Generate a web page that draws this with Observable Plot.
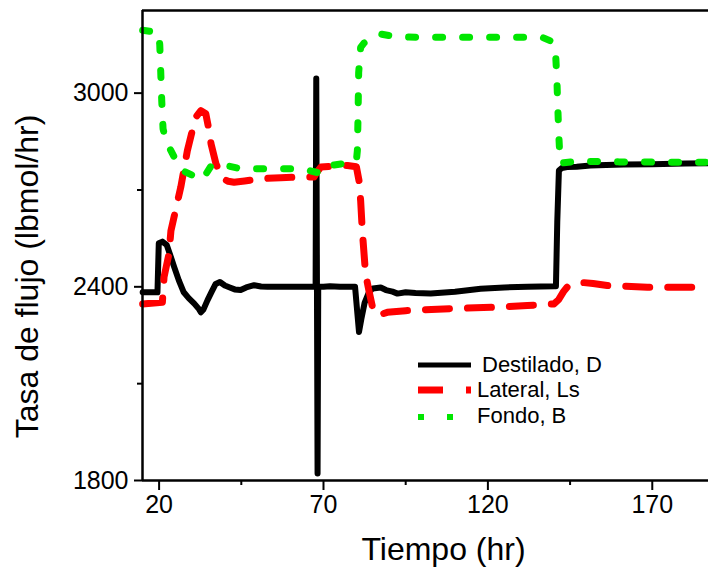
<!DOCTYPE html>
<html>
<head>
<meta charset="utf-8">
<script src="https://cdn.jsdelivr.net/npm/d3@7"></script>
<script src="https://cdn.jsdelivr.net/npm/@observablehq/plot@0.6"></script>
<style>
  html, body { margin: 0; padding: 0; background: #fff; }
  #chart { width: 708px; height: 568px; }
</style>
</head>
<body>
<div id="chart"></div>
<script>
// ---- axis data ----
const xDomain = [14.95, 187.1];
const yDomain = [1800, 3256];
const xTicks = [20, 70, 120, 170];
const xMinorTicks = [45, 95, 145];
const yTicks = [1800, 2400, 3000];
const yMinorTicks = [2100, 2700];
const xTitle = "Tiempo (hr)";
const yTitle = "Tasa de flujo (lbmol/hr)";

// ---- series ----
const seriesNames = ["Destilado, D", "Lateral, Ls", "Fondo, B"];
const seriesColors = ["#000000", "#ff0000", "#00e600"];

const destTime = [15, 19.5, 19.9, 21, 22.3, 23.5, 24.6, 26, 27.5, 29, 30.7, 32.2, 32.7, 33.5, 34.7, 36, 37.2, 38.5, 40, 41.5, 43, 44.8, 46.5, 48.9, 51, 53, 60, 67.6, 67.8, 68.2, 68.4, 70, 72, 75, 79.6, 80.2, 80.8, 81.5, 82.5, 83.8, 85, 87.4, 89, 91, 92.5, 95, 98, 102.6, 110, 117.8, 125, 132, 140.3, 140.7, 141.1, 141.6, 142.5, 144.1, 147, 151.2, 156, 161.3, 170, 180, 187.1];
const destFlow = [2383, 2383, 2535, 2540, 2530, 2495, 2461, 2420, 2383, 2365, 2348, 2330, 2321, 2330, 2358, 2385, 2409, 2415, 2404, 2398, 2392, 2390, 2398, 2405, 2401, 2400, 2400, 2400, 3045, 1822, 2400, 2400, 2402, 2400, 2400, 2330, 2260, 2300, 2350, 2383, 2395, 2398, 2390, 2385, 2379, 2383, 2381, 2379, 2385, 2394, 2398, 2400, 2402, 2402, 2600, 2760, 2768, 2771, 2772, 2776, 2777, 2779, 2780, 2782, 2783];

const latTime = [15, 21, 21.5, 23, 23.6, 26.6, 28.6, 30, 31.2, 32.7, 34.2, 35, 35.8, 37.3, 39.3, 41, 42.8, 46, 50.9, 57, 63.1, 67.1, 68, 69.2, 72, 77.3, 80, 80.8, 81.3, 81.8, 82.8, 83.8, 84.9, 86.4, 89.4, 95, 100.5, 110, 122.9, 132, 140.1, 141.5, 143, 144.1, 146, 148.2, 152, 156.3, 162, 168.5, 178, 187.1];
const latFlow = [2347, 2352, 2430, 2502, 2574, 2709, 2822, 2880, 2926, 2946, 2936, 2895, 2843, 2781, 2735, 2727, 2724, 2728, 2735, 2738, 2740, 2740, 2755, 2771, 2773, 2776, 2772, 2729, 2667, 2574, 2440, 2389, 2337, 2311, 2321, 2326, 2329, 2333, 2337, 2342, 2347, 2360, 2385, 2399, 2410, 2414, 2410, 2404, 2402, 2399, 2399, 2399];

const fonTime = [15, 19.8, 20.2, 20.5, 20.8, 21.2, 22, 24.6, 27.1, 30.2, 33.2, 35.7, 38.8, 44.8, 52.9, 63.1, 68.1, 69.2, 75.7, 80.0, 80.3, 80.5, 80.7, 81.3, 82.3, 83.7, 87.4, 92.5, 100, 110, 120, 130, 136.5, 139.5, 140.6, 141, 141.3, 141.6, 142, 147.2, 160, 175, 187.1];
const fonFlow = [3195, 3188, 3150, 3065, 2977, 2890, 2853, 2802, 2760, 2745, 2732, 2773, 2779, 2766, 2766, 2766, 2754, 2771, 2781, 2790, 2822, 2925, 3064, 3142, 3155, 3163, 3183, 3174, 3173, 3173, 3173, 3173, 3173, 3160, 3122, 3039, 2946, 2863, 2783, 2789, 2787, 2786, 2786];

const toRows = (ts, vs) => ts.map((t, i) => ({t, v: vs[i]}));
const dest = toRows(destTime, destFlow);
const lat = toRows(latTime, latFlow);
const fon = toRows(fonTime, fonFlow);

const FONT = "Liberation Sans, Arial, Helvetica, sans-serif";

const chart = Plot.plot({
  width: 708,
  height: 568,
  marginLeft: 142,
  marginRight: 0,
  marginTop: 10,
  marginBottom: 88,
  style: {fontFamily: FONT, color: "#000", background: "#fff", overflow: "visible"},
  x: {domain: xDomain, axis: null},
  y: {domain: yDomain, axis: null},
  marks: [
    // series
    Plot.line(dest, {x: "t", y: "v", stroke: seriesColors[0], strokeWidth: 6, strokeLinejoin: "round"}),
    Plot.line(lat, {x: "t", y: "v", stroke: seriesColors[1], strokeWidth: 7, strokeDasharray: "24,18", strokeLinejoin: "round"}),
    Plot.line(fon, {x: "t", y: "v", stroke: seriesColors[2], strokeWidth: 7, strokeDasharray: "7,20", strokeLinejoin: "round"}),
    // frame lines (left, bottom, top)
    Plot.ruleX([xDomain[0]], {stroke: "#000", strokeWidth: 2.5}),
    Plot.ruleY([yDomain[0]], {stroke: "#000", strokeWidth: 2.5}),
    Plot.ruleY([yDomain[1]], {stroke: "#000", strokeWidth: 2.5}),
    // ticks
    Plot.axisX({ticks: xTicks, tickSize: 10, tickPadding: 5, fontSize: 25, strokeWidth: 2, tickFormat: "d", anchor: "bottom", label: null}),
    Plot.axisX({ticks: xMinorTicks, tickSize: 5, text: null, strokeWidth: 2, anchor: "bottom", label: null}),
    Plot.axisY({ticks: yTicks, tickSize: 8, tickPadding: 6, fontSize: 25, strokeWidth: 2, tickFormat: "d", anchor: "left", label: null}),
    Plot.axisY({ticks: yMinorTicks, tickSize: 5, text: null, strokeWidth: 2, anchor: "left", label: null}),
    // axis titles
    Plot.text([xTitle], {frameAnchor: "bottom", textAnchor: "middle", dx: 18, dy: 69, fontSize: 32, lineAnchor: "middle", fill: "#000"}),
    Plot.text([yTitle], {frameAnchor: "left", textAnchor: "middle", rotate: -90, dx: -115, dy: 31, fontSize: 32, lineAnchor: "middle", fill: "#000"})
  ]
});

document.getElementById("chart").appendChild(chart);

// ---- legend (inside the plot area) ----
const legendStyles = [
  {width: 5, dash: null},
  {width: 7, dash: "25,23"},
  {width: 6, dash: "6,23"}
];
const legendX0 = 418, legendX1 = 471, legendTextX = [482, 477, 477];
const legendLineY = [365, 390, 417];
const legendTextY = [372, 397, 423];
const lg = d3.select(chart).append("g")
  .attr("font-family", FONT)
  .attr("text-anchor", "start");
seriesNames.forEach((name, i) => {
  lg.append("line")
    .attr("x1", legendX0).attr("x2", i === 2 ? 455 : legendX1)
    .attr("y1", legendLineY[i]).attr("y2", legendLineY[i])
    .attr("stroke", seriesColors[i])
    .attr("stroke-width", legendStyles[i].width)
    .attr("stroke-dasharray", legendStyles[i].dash);
  lg.append("text")
    .attr("x", legendTextX[i]).attr("y", legendTextY[i])
    .attr("fill", "#000")
    .style("font-size", "22px")
    .text(name);
});
</script>
</body>
</html>
